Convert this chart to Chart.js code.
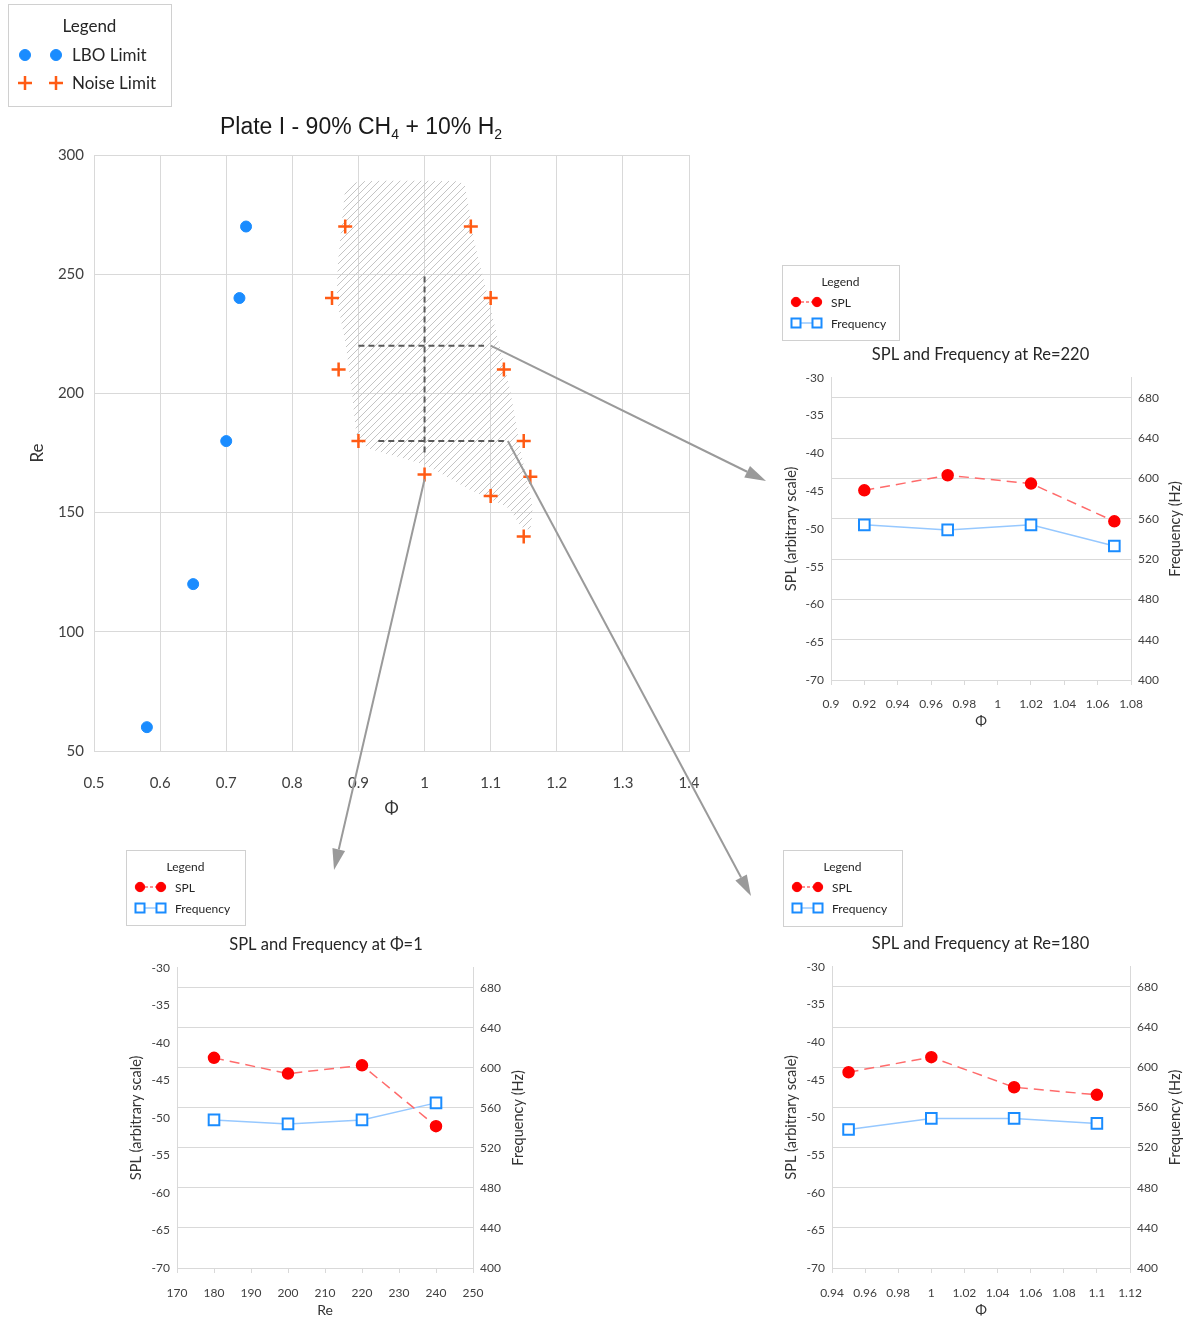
<!DOCTYPE html>
<html>
<head>
<meta charset="utf-8">
<title>Plate I - LBO and noise limits</title>
<script src="https://cdn.jsdelivr.net/npm/chart.js@4.4.1/dist/chart.umd.min.js"></script>
<style>
  body { margin: 0; background: #fff; }
  #wrap { position: relative; width: 1186px; height: 1321px; overflow: hidden; }
  #wrap canvas { position: absolute; }
</style>
</head>
<body>
<div id="wrap">
  <canvas id="mainChart" width="1186" height="900" style="left:0;top:0"></canvas>
  <canvas id="re220Chart" width="411" height="475" style="left:775px;top:260px"></canvas>
  <canvas id="phi1Chart" width="420" height="476" style="left:116px;top:845px"></canvas>
  <canvas id="re180Chart" width="411" height="476" style="left:775px;top:845px"></canvas>
</div>
<script>
// Stability map: LBO limit and noise limit (equivalence ratio vs Reynolds number)
const lboPhi = [0.58, 0.65, 0.70, 0.72, 0.73];
const lboRe = [60, 120, 180, 240, 270];
const noisePhi = [0.88, 1.07, 0.86, 1.10, 0.87, 1.12, 0.90, 1.15, 1.00, 1.16, 1.10, 1.15];
const noiseRe = [270, 270, 240, 240, 210, 210, 180, 180, 166, 165, 157, 140];

// hatched noisy region outline
const bandPhi = [0.880, 0.902, 1.051, 1.061, 1.076, 1.092, 1.111, 1.129, 1.147, 1.163, 1.160,
                 1.147, 1.126, 1.066, 1.001, 0.915, 0.898, 0.890, 0.880, 0.868, 0.869, 0.880];
const bandRe = [286, 289, 289, 287, 263, 245, 223, 202, 174, 153, 143,
                144, 152, 160, 170, 177, 182, 201, 222, 239, 254, 286];

// dashed cuts through the region
const cutPhi1Phi = [1.0, 1.0];
const cutPhi1Re = [249, 174];
const cut220Phi = [0.9, 1.09];
const cut220Re = [220, 220];
const cut180Phi = [0.93, 1.12];
const cut180Re = [180, 180];

// arrows: start (phi, Re) on the map, tip in page pixels
const arrowFrom = [[1.1, 220], [1.0, 164], [1.126, 180]];
const arrowTo = [[766, 481], [334, 870], [751, 896]];

// SPL / frequency along the cuts
const re220Phi = [0.92, 0.97, 1.02, 1.07];
const re220Spl = [-44.9, -42.9, -44.0, -49.0];
const re220Freq = [554, 549, 554, 533];

const phi1Re = [180, 200, 220, 240];
const phi1Spl = [-42.0, -44.1, -43.0, -51.1];
const phi1Freq = [548, 544, 548, 565];

const re180Phi = [0.95, 1.00, 1.05, 1.10];
const re180Spl = [-44.0, -42.0, -46.0, -47.0];
const re180Freq = [538, 549, 549, 544];

const FONT = 'Lato, "Open Sans", sans-serif';
const GRID = '#d9d9d9';
Chart.defaults.font.family = FONT;
Chart.defaults.color = '#404040';

const pts = (xs, ys) => xs.map((x, i) => ({ x: x, y: ys[i] }));

// diagonal hatch fill
function makeHatch() {
  const c = document.createElement('canvas');
  c.width = 7; c.height = 7;
  const g = c.getContext('2d');
  g.strokeStyle = '#c4c4c4';
  g.lineWidth = 1;
  g.beginPath();
  g.moveTo(0, 7); g.lineTo(7, 0);
  g.moveTo(-1, 1); g.lineTo(1, -1);
  g.moveTo(6, 8); g.lineTo(8, 6);
  g.stroke();
  return g.createPattern(c, 'repeat');
}

function drawMarker(ctx, ds, x, y) {
  const style = ds.pointStyle || 'circle';
  const r = ds.pointRadius;
  ctx.save();
  ctx.lineWidth = ds.pointBorderWidth || 1;
  ctx.strokeStyle = ds.pointBorderColor;
  ctx.fillStyle = ds.pointBackgroundColor || ds.pointBorderColor;
  ctx.setLineDash([]);
  ctx.beginPath();
  if (style === 'rect') {
    const s = r * Math.SQRT1_2;
    ctx.rect(x - s, y - s, 2 * s, 2 * s);
    ctx.fill(); ctx.stroke();
  } else if (style === 'cross') {
    ctx.moveTo(x - r, y); ctx.lineTo(x + r, y);
    ctx.moveTo(x, y - r); ctx.lineTo(x, y + r);
    ctx.stroke();
  } else {
    ctx.arc(x, y, r, 0, Math.PI * 2);
    ctx.fill(); ctx.stroke();
  }
  ctx.restore();
}

// boxed "Legend" panel
const legendBox = {
  id: 'legendBox',
  afterDraw(chart, args, o) {
    const ctx = chart.ctx;
    ctx.save();
    ctx.fillStyle = '#fff';
    ctx.fillRect(o.x, o.y, o.w, o.h);
    ctx.strokeStyle = '#d0d0d0';
    ctx.lineWidth = 1;
    ctx.strokeRect(o.x + 0.5, o.y + 0.5, o.w, o.h);
    ctx.font = o.size + 'px ' + FONT;
    ctx.fillStyle = '#262626';
    ctx.textBaseline = 'middle';
    ctx.textAlign = 'center';
    ctx.fillText('Legend', o.x + o.w / 2, o.y + o.titleY);
    ctx.textAlign = 'left';
    let row = 0;
    chart.data.datasets.forEach(ds => {
      if (!ds.label) return;
      const ry = o.y + o.rows[row++];
      const x1 = o.x + o.m1, x2 = o.x + o.m2;
      if (ds.showLine) {
        ctx.save();
        ctx.strokeStyle = ds.borderColor;
        ctx.lineWidth = ds.borderWidth;
        ctx.setLineDash(ds.borderDash ? [3, 2] : []);
        ctx.beginPath(); ctx.moveTo(x1, ry); ctx.lineTo(x2, ry); ctx.stroke();
        ctx.restore();
      }
      const k = o.scale || 1;
      const d = Object.assign({}, ds, { pointRadius: ds.pointRadius * k });
      drawMarker(ctx, d, x1, ry);
      drawMarker(ctx, d, x2, ry);
      ctx.fillStyle = '#262626';
      ctx.fillText(ds.label, o.x + o.lx, ry + 1);
    });
    ctx.restore();
  }
};

// right-axis title reading bottom to top
const rightTitle = {
  id: 'rightTitle',
  afterDraw(chart, args, o) {
    const s = chart.scales.y1;
    const ctx = chart.ctx;
    ctx.save();
    ctx.translate(s.right - o.offset, (s.top + s.bottom) / 2);
    ctx.rotate(-Math.PI / 2);
    ctx.font = o.size + 'px ' + FONT;
    ctx.fillStyle = '#333';
    ctx.textAlign = 'center';
    ctx.textBaseline = 'middle';
    ctx.fillText(o.text, 0, 0);
    ctx.restore();
  }
};

function arrow(ctx, x1, y1, x2, y2) {
  const a = Math.atan2(y2 - y1, x2 - x1);
  const head = 21, half = 6.5;
  const bx = x2 - head * Math.cos(a), by = y2 - head * Math.sin(a);
  ctx.beginPath(); ctx.moveTo(x1, y1); ctx.lineTo(bx, by); ctx.stroke();
  ctx.beginPath();
  ctx.moveTo(x2, y2);
  ctx.lineTo(bx - half * Math.sin(a), by + half * Math.cos(a));
  ctx.lineTo(bx + half * Math.sin(a), by - half * Math.cos(a));
  ctx.closePath();
  ctx.fill();
}

// title with subscripts + arrows to the detail charts
const mapDecor = {
  id: 'mapDecor',
  afterDraw(chart) {
    const ctx = chart.ctx;
    const xs = chart.scales.x, ys = chart.scales.y;
    ctx.save();
    const parts = [['Plate I - 90% CH', false], ['4', true], [' + 10% H', false], ['2', true]];
    const big = '23px "Liberation Sans", Arial, sans-serif';
    const small = '14px "Liberation Sans", Arial, sans-serif';
    let total = 0;
    parts.forEach(p => { ctx.font = p[1] ? small : big; total += ctx.measureText(p[0]).width; });
    let tx = 361 - total / 2;
    ctx.fillStyle = '#1a1a1a';
    ctx.textBaseline = 'alphabetic';
    parts.forEach(p => {
      ctx.font = p[1] ? small : big;
      ctx.fillText(p[0], tx, p[1] ? 139 : 134);
      tx += ctx.measureText(p[0]).width;
    });

    ctx.strokeStyle = '#9a9a9a';
    ctx.fillStyle = '#9a9a9a';
    ctx.lineWidth = 2;
    arrowFrom.forEach((f, i) => {
      arrow(ctx, xs.getPixelForValue(f[0]), ys.getPixelForValue(f[1]), arrowTo[i][0], arrowTo[i][1]);
    });
    ctx.restore();
  }
};

const hatch = makeHatch();
const dashed = { showLine: true, borderColor: '#595959', borderWidth: 2, borderDash: [6, 4], pointRadius: 0 };

new Chart(document.getElementById('mainChart'), {
  type: 'scatter',
  data: {
    datasets: [
      { label: 'LBO Limit', data: pts(lboPhi, lboRe), pointRadius: 5.5,
        pointBackgroundColor: '#1a8cff', pointBorderColor: '#1a8cff' },
      { label: 'Noise Limit', data: pts(noisePhi, noiseRe), pointStyle: 'cross', pointRadius: 7,
        pointBorderWidth: 2.5, pointBorderColor: '#ff5b14', pointBackgroundColor: '#ff5b14' },
      Object.assign({ data: pts(cutPhi1Phi, cutPhi1Re) }, dashed),
      Object.assign({ data: pts(cut220Phi, cut220Re) }, dashed),
      Object.assign({ data: pts(cut180Phi, cut180Re) }, dashed),
      { data: pts(bandPhi, bandRe), showLine: true, borderWidth: 0, borderColor: 'rgba(0,0,0,0)',
        fill: 'shape', backgroundColor: hatch, pointRadius: 0, tension: 0.15 }
    ]
  },
  options: {
    responsive: false,
    animation: false,
    events: [],
    layout: { padding: { left: 0, top: 155, right: 497, bottom: 70 } },
    plugins: {
      legend: { display: false },
      tooltip: { enabled: false },
      legendBox: { x: 8, y: 4, w: 163, h: 102, size: 17, titleY: 23, rows: [51, 79], m1: 17, m2: 48, lx: 64 }
    },
    scales: {
      x: {
        type: 'linear', min: 0.5, max: 1.4,
        ticks: { stepSize: 0.1, padding: 23, font: { size: 15 }, callback: v => String(+v.toFixed(1)) },
        grid: { color: GRID, drawTicks: false },
        border: { color: GRID },
        title: { display: true, text: 'Φ', font: { size: 17 }, color: '#333', padding: { top: 0, bottom: 11 } },
        afterFit: s => { s.height = 79; }
      },
      y: {
        min: 50, max: 300,
        ticks: { stepSize: 50, padding: 10, font: { size: 15 } },
        grid: { color: GRID, drawTicks: false },
        border: { color: GRID },
        title: { display: true, text: 'Re', font: { size: 17 }, color: '#333', padding: { top: 27, bottom: 0 } },
        afterFit: s => { s.width = 94; }
      }
    }
  },
  plugins: [legendBox, mapDecor]
});

// SPL (left axis) and frequency (right axis) along one cut
function detailChart(id, c) {
  return new Chart(document.getElementById(id), {
    type: 'scatter',
    data: {
      datasets: [
        { label: 'SPL', data: pts(c.xs, c.spl), yAxisID: 'y', showLine: true,
          borderColor: '#ff6b6b', borderWidth: 1.5, borderDash: [10, 6],
          pointRadius: 5.5, pointBackgroundColor: '#ff0000', pointBorderColor: '#ff0000' },
        { label: 'Frequency', data: pts(c.xs, c.freq), yAxisID: 'y1', showLine: true,
          borderColor: '#96c8ff', borderWidth: 1.5, pointStyle: 'rect',
          pointRadius: 7.5, pointBorderWidth: 2, pointBackgroundColor: '#fff', pointBorderColor: '#1a8cff' }
      ]
    },
    options: {
      responsive: false,
      animation: false,
      events: [],
      layout: { padding: 0 },
      plugins: {
        legend: { display: false },
        tooltip: { enabled: false },
        title: { display: true, text: c.title, color: '#262626', font: { size: 16.5, weight: 'normal' },
                 padding: { top: c.titleTop, bottom: c.titleBottom } },
        legendBox: Object.assign({ size: 12, titleY: 17, rows: [37, 58], m1: 14, m2: 35, lx: 49, scale: 0.85 }, c.legend),
        rightTitle: { text: 'Frequency (Hz)', size: 14.5, offset: c.y1TitleOff }
      },
      scales: {
        x: {
          type: 'linear', min: c.xMin, max: c.xMax,
          ticks: { stepSize: c.xStep, padding: c.xTickPad, font: { size: 12 }, callback: c.xFmt },
          grid: { color: GRID, drawOnChartArea: false, tickLength: 5 },
          border: { color: GRID },
          title: { display: true, text: c.xTitle, font: { size: 14 }, color: '#333', padding: { top: 0, bottom: c.xTitlePad } },
          afterFit: s => { s.height = c.xH; }
        },
        y: {
          position: 'left', min: -70, max: -30,
          ticks: { stepSize: 5, padding: 7, font: { size: 12 } },
          grid: { drawOnChartArea: false, drawTicks: false },
          border: { color: GRID },
          title: { display: true, text: 'SPL (arbitrary scale)', font: { size: 14.5 }, color: '#333', padding: { top: c.yTitlePad, bottom: 0 } },
          afterFit: s => { s.width = c.yW; }
        },
        y1: {
          position: 'right', min: 400, max: 700,
          ticks: { stepSize: 40, padding: 7, font: { size: 12 } },
          afterBuildTicks: s => { s.ticks = s.ticks.filter(t => t.value <= 680); },
          grid: { color: GRID, drawTicks: false },
          border: { color: GRID },
          afterFit: s => { s.width = c.y1W; }
        }
      }
    },
    plugins: [legendBox, rightTitle]
  });
}

const fmt2 = v => String(+v.toFixed(2));

detailChart('re220Chart', {
  title: 'SPL and Frequency at Re=220', titleTop: 85, titleBottom: 13,
  xs: re220Phi, spl: re220Spl, freq: re220Freq,
  xMin: 0.9, xMax: 1.08, xStep: 0.02, xFmt: fmt2, xTitle: 'Φ',
  xH: 55, xTickPad: 12, xTitlePad: 5, yW: 56, yTitlePad: 8, y1W: 55, y1TitleOff: 11,
  legend: { x: 7, y: 5, w: 117, h: 75 }
});

detailChart('phi1Chart', {
  title: 'SPL and Frequency at Φ=1', titleTop: 90, titleBottom: 13,
  xs: phi1Re, spl: phi1Spl, freq: phi1Freq,
  xMin: 170, xMax: 250, xStep: 10, xFmt: v => String(v), xTitle: 'Re',
  xH: 53, xTickPad: 13, xTitlePad: 2, yW: 61, yTitlePad: 12, y1W: 63, y1TitleOff: 18,
  legend: { x: 10, y: 5, w: 119, h: 75 }
});

detailChart('re180Chart', {
  title: 'SPL and Frequency at Re=180', titleTop: 89, titleBottom: 13,
  xs: re180Phi, spl: re180Spl, freq: re180Freq,
  xMin: 0.94, xMax: 1.12, xStep: 0.02, xFmt: fmt2, xTitle: 'Φ',
  xH: 53, xTickPad: 13, xTitlePad: 2, yW: 57, yTitlePad: 8, y1W: 56, y1TitleOff: 11,
  legend: { x: 8, y: 5, w: 119, h: 76 }
});
</script>
</body>
</html>
